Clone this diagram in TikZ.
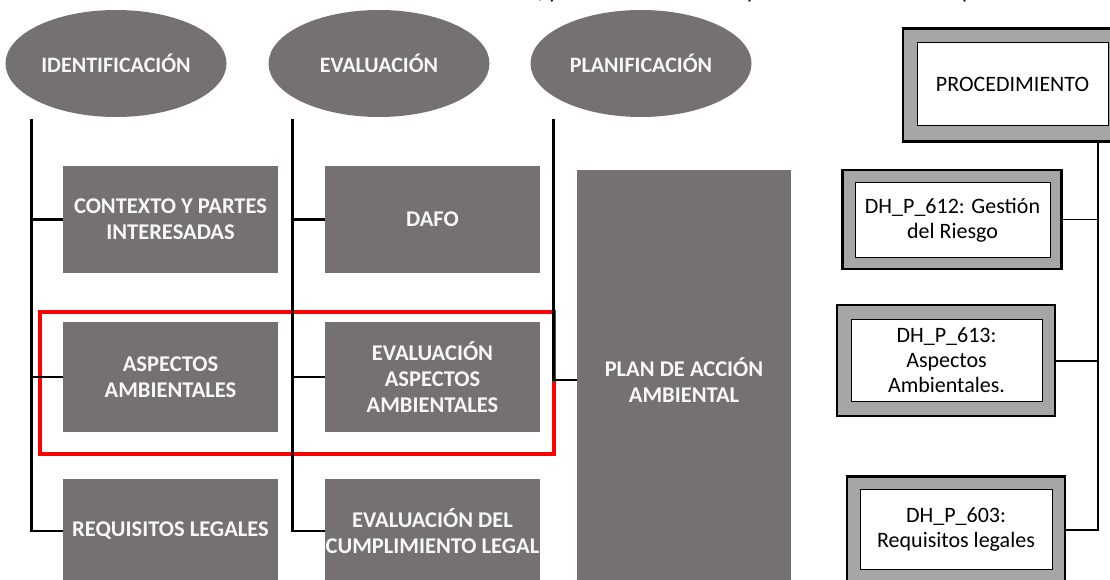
\documentclass[tikz,border=0pt]{standalone}
\usepackage{fontspec}
\setmainfont{Carlito}
\usetikzlibrary{shapes.geometric}
\definecolor{boxgray}{HTML}{757170}
\definecolor{framegray}{HTML}{A6A6A6}
\definecolor{txt}{HTML}{F7F7F7}
\begin{document}
\begin{tikzpicture}[x=1pt,y=-1pt,
  ell/.style={ellipse, fill=boxgray, minimum width=221, minimum height=107, inner sep=0pt, text=txt, font=\bfseries\fontsize{22}{26}\selectfont},
  gbox/.style={rectangle, fill=boxgray, inner sep=0pt, minimum width=215},
  gtext/.style={inner sep=0pt, text=txt, align=center, font=\bfseries\fontsize{22.5}{26}\selectfont},
  outerbox/.style={rectangle, fill=framegray, draw=black, line width=2.5pt, inner sep=0pt},
  innerbox/.style={rectangle, fill=white, draw=black, line width=1pt, inner sep=0pt, align=center, font=\fontsize{22}{25}\selectfont},
  cut/.style={inner sep=0pt, anchor=base, font=\fontsize{22}{26}\selectfont},
  trunk/.style={draw=black, line width=3pt},
  branch/.style={draw=black, line width=2.2pt},
  thin/.style={draw=black, line width=1.5pt}
]
\useasboundingbox (0,0) rectangle (1110,580);
\clip (0,0) rectangle (1110,580);

% fragments of a text line cut off at the top
\node[cut] (frag1) at (548,-1) {, y};
\node[cut] (frag2) at (753,-1) {p};
\node[cut] (frag3) at (968,-1) {p};

% top ellipses
\node[ell] (id) at (116,63.5) {IDENTIFICACIÓN};
\node[ell] (ev) at (379,63.5) {EVALUACIÓN};
\node[ell] (pl) at (641,63.5) {PLANIFICACIÓN};

% grey boxes
\node[gbox, minimum height=107] (ctx) at (170.5,219.5) {};
\node[gtext] at (ctx.center) {CONTEXTO Y PARTES\\INTERESADAS};
\node[gbox, minimum height=107] (dafo) at (432.5,219.5) {};
\node[gtext] at (dafo.center) {DAFO};
\node[gbox, minimum height=110] (asp) at (170.5,377) {};
\node[gtext] at (asp.center) {ASPECTOS\\AMBIENTALES};
\node[gbox, minimum height=110] (evasp) at (432.5,377) {};
\node[gtext] at (evasp.center) {EVALUACIÓN\\ASPECTOS\\AMBIENTALES};
\node[gbox, anchor=north, minimum height=110] (req) at (170.5,479) {};
\node[gtext] at (170.5,531) {REQUISITOS LEGALES};
\node[gbox, anchor=north, minimum height=110] (evleg) at (432.5,479) {};
\node[gtext] at (432.5,531) {EVALUACIÓN DEL\\CUMPLIMIENTO LEGAL};
\node[gbox, anchor=north, minimum width=214, minimum height=420] (plan) at (684,170) {};
\node[gtext] at (684,380) {PLAN DE ACCIÓN\\AMBIENTAL};

% red highlight
\draw[red, line width=4.5pt] (40,312) rectangle (554,454);

% connectors
\coordinate (t1) at (31,119);
\coordinate (t2) at (292,119);
\coordinate (t3) at (553,119);
\coordinate (e1) at (31,531);
\coordinate (e2) at (292,531);
\coordinate (e3) at (553,380);
\draw[trunk] (t1) -- (e1);
\draw[trunk] (t2) -- (e2);
\draw[trunk] (t3) -- (e3);
\draw[branch] (t1|-ctx.west) -- (ctx.west);
\draw[branch] (t1|-asp.west) -- (asp.west);
\draw[branch] ([xshift=-1.5pt]e1) -- (req.west|-e1);
\draw[branch] (t2|-dafo.west) -- (dafo.west);
\draw[branch] (t2|-evasp.west) -- (evasp.west);
\draw[branch] ([xshift=-1.5pt]e2) -- (evleg.west|-e2);
\draw[branch] ([xshift=-1.5pt]e3) -- (plan.west|-e3);

% right column
\node[outerbox, minimum width=220, minimum height=113] (proco) at (1013,85) {};
\node[innerbox, minimum width=191, minimum height=83] (proc) at (1012.5,84.5) {PROCEDIMIENTO};
\node[outerbox, minimum width=219, minimum height=99] (r612o) at (952,219.5) {};
\node[innerbox, minimum width=195, minimum height=74] (r612) at (952.5,220) {DH\_P\_612: Gestión\\del Riesgo};
\node[outerbox, minimum width=218, minimum height=111] (r613o) at (946,360.5) {};
\node[innerbox, minimum width=191, minimum height=82] (r613) at (946.5,360) {DH\_P\_613:\\Aspectos\\Ambientales.};
\node[outerbox, anchor=north, minimum width=218, minimum height=120] (r603o) at (956,475) {};
\node[innerbox, anchor=north, minimum width=192, minimum height=80] (r603) at (956,489) {DH\_P\_603:\\Requisitos legales};

\coordinate (rt) at (1098,141);
\coordinate (rb) at (1098,530);
\draw[trunk, line width=2.5pt] (rt) -- (rb);
\draw[thin] (r612o.east) -- (rt|-r612o.east);
\draw[thin, line width=2pt] (r613o.east) -- (rt|-r613o.east);
\draw[thin, line width=2.5pt] (r603o.east|-rb) -- ([xshift=1.25pt]rb);
\end{tikzpicture}
\end{document}
